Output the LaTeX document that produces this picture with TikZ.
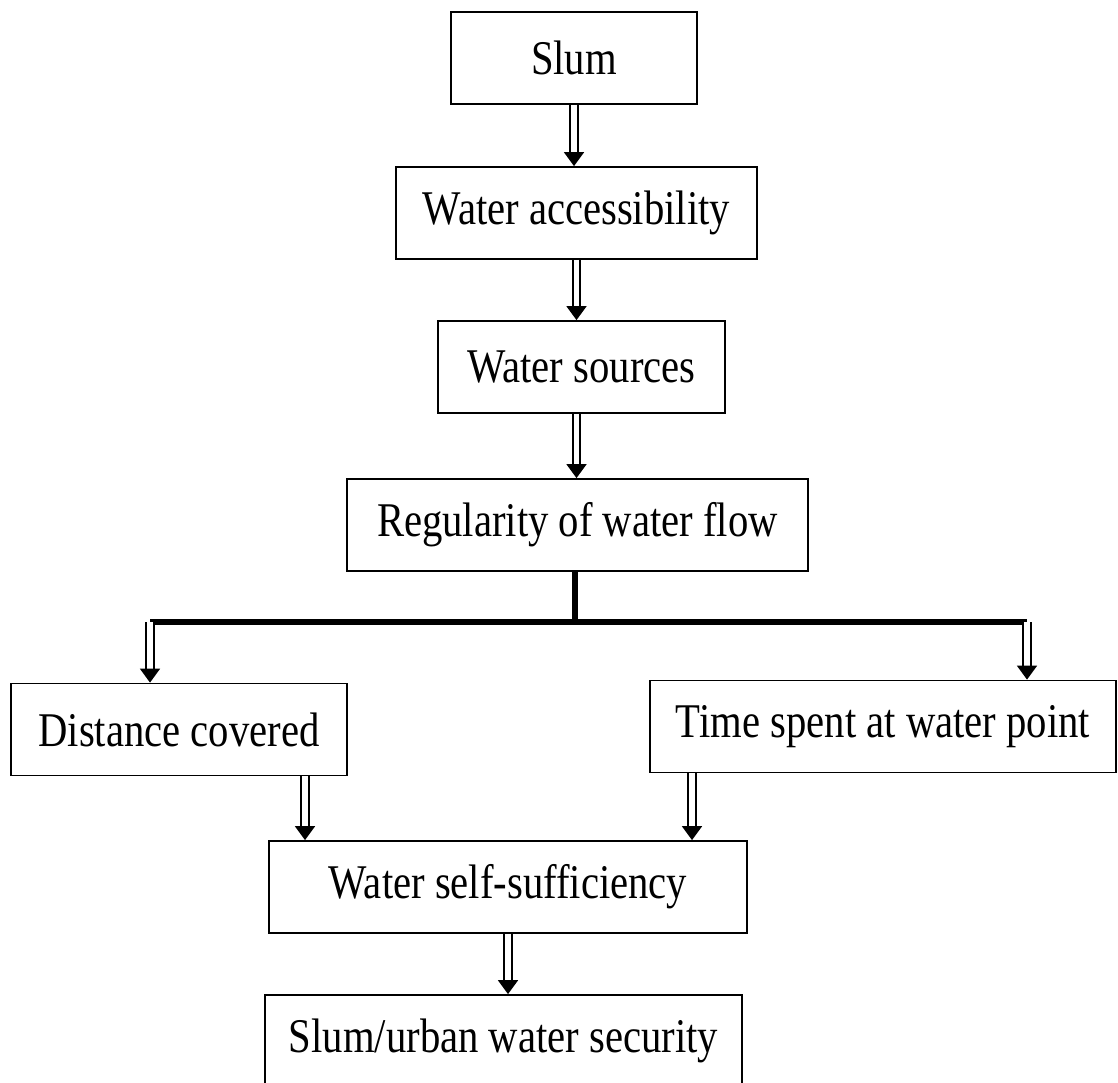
\documentclass[tikz,border=0pt]{standalone}
\usepackage{fontspec}
\setmainfont{Liberation Serif}[FakeStretch=0.84]
\usepackage{tikz}
\usetikzlibrary{arrows.meta}

\newcommand{\boxfont}{\fontsize{24.2}{29}\selectfont}

\begin{document}
\begin{tikzpicture}[x=0.5pt, y=-0.5pt,
    box/.style={draw, line width=0.9pt, minimum height=46pt, inner sep=0pt, font=\boxfont},
    dblarrow/.style={double, double distance=2.8pt, line width=0.9pt,
      -{Triangle[length=7pt, width=10pt]}},
    branch/.style={line width=2.6pt}]
  % Page size (same proportions as the original figure)
  \useasboundingbox (0,0) rectangle (1118,1082);

  % Main column
  \node[box, minimum width=123pt]   (slum)    at (574,58)    {Slum};
  \node[box, minimum width=180.5pt] (access)  at (576.5,213) {Water accessibility};
  \node[box, minimum width=143.5pt] (sources) at (581.5,367) {Water sources};
  \node[box, minimum width=230.5pt] (reg)     at (577.5,525) {Regularity of water flow};

  % Two branches
  \node[box, minimum width=168pt]   (dist)    at (179,729.5) {Distance covered};
  \node[box, minimum width=233pt]   (time)    at (883,726.5) {Time spent at water point};

  % Outcome
  \node[box, minimum width=239pt]   (self)    at (508,887)   {Water self-sufficiency};
  \node[box, minimum width=238.5pt] (sec)     at (503.5,1041) {Slum/urban water security};

  % Arrows down the column
  \draw[dblarrow] (slum.south) -- (slum.south |- access.north);
  \draw[dblarrow] (access.south) -- (access.south |- sources.north);
  \draw[dblarrow] ([xshift=-2.5pt]sources.south) -- ([xshift=-2.5pt]sources.south |- reg.north);

  % Split bar
  \coordinate (split) at (575,622);
  \coordinate (bl) at (150,622);
  \coordinate (br) at (1027,622);
  \draw[branch] (reg.south -| split) -- (split);
  \draw[branch] (bl) -- (br);
  \draw[dblarrow] (bl) -- (bl |- dist.north);
  \draw[dblarrow] (br) -- (br |- time.north);

  % Into self-sufficiency
  \draw[dblarrow] ([xshift=63pt]dist.south) -- ([xshift=63pt]dist.south |- self.north);
  \draw[dblarrow] ([xshift=-95.5pt]time.south) -- ([xshift=-95.5pt]time.south |- self.north);
  \draw[dblarrow] (self.south) -- (self.south |- sec.north);

\end{tikzpicture}
\end{document}
